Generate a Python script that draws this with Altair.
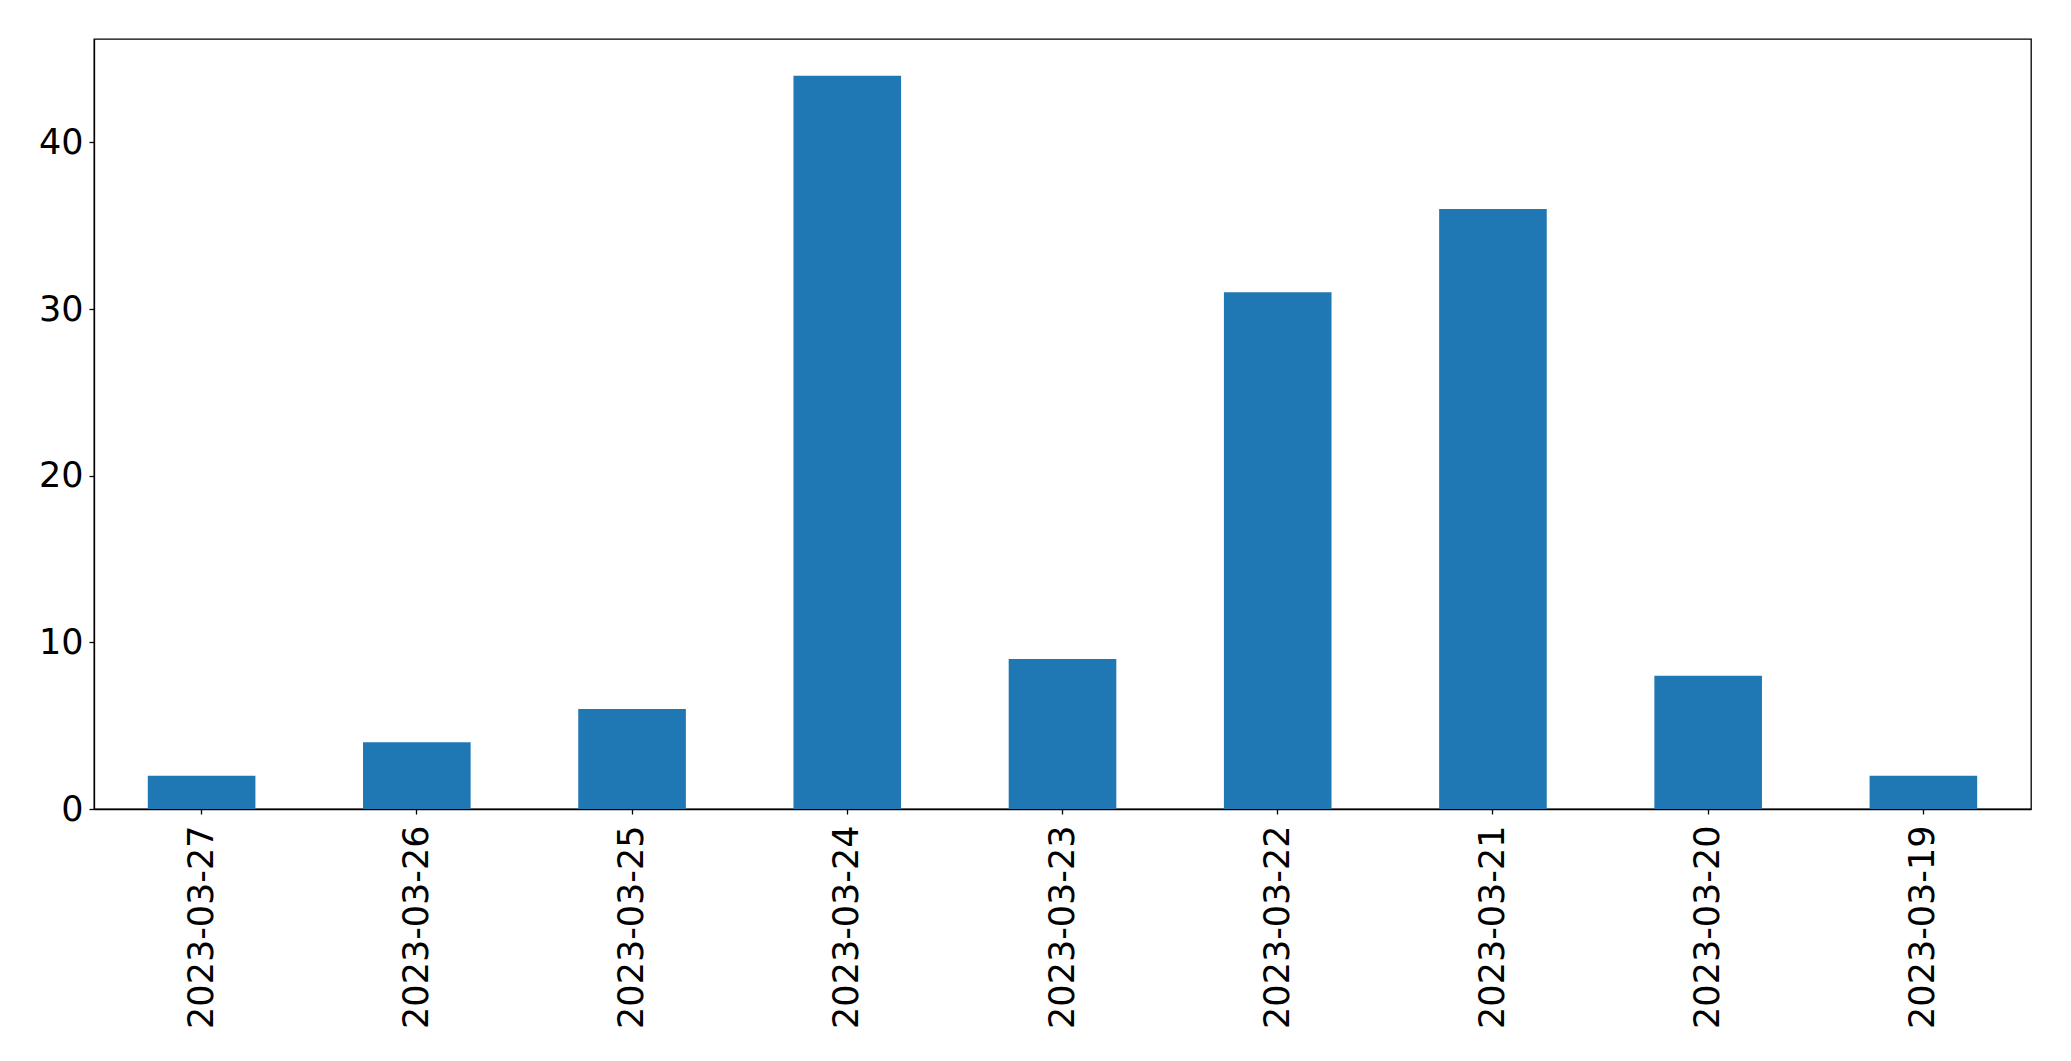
import altair as alt
import pandas as pd

dates = ["2023-03-27", "2023-03-26", "2023-03-25", "2023-03-24", "2023-03-23",
         "2023-03-22", "2023-03-21", "2023-03-20", "2023-03-19"]
counts = [2, 4, 6, 44, 9, 31, 36, 8, 2]

df = pd.DataFrame({"date": dates, "count": counts})

FONT = "DejaVu Sans"

chart = alt.Chart(df).mark_bar(color="#1f77b4").encode(
    x=alt.X("date:N", sort=dates, title=None,
            scale=alt.Scale(paddingInner=0.5, paddingOuter=0.25),
            axis=alt.Axis(labelAngle=270, labelFontSize=35, labelFont=FONT,
                          labelColor="black", labelPadding=11, tickSize=5,
                          tickWidth=1.3, tickColor="black", domainColor="black",
                          domainWidth=1.3, grid=False, labelAlign="right",
                          labelBaseline="middle", labelLimit=0)),
    y=alt.Y("count:Q", title=None,
            scale=alt.Scale(domain=[0, 46.2], nice=False, zero=True),
            axis=alt.Axis(values=[0, 10, 20, 30, 40], labelFontSize=35,
                          labelFont=FONT, labelColor="black", labelPadding=6,
                          tickSize=5, tickWidth=1.3, tickColor="black",
                          domainColor="black", domainWidth=1.3, grid=False)),
).properties(
    width=1937, height=770,
    autosize=alt.AutoSizeParams(type="none"),
    padding={"left": 86, "top": 31, "right": 20, "bottom": 230},
).configure(
    background="white",
    view=alt.ViewConfig(stroke="black", strokeWidth=1.3),
)

chart.save("out.html", embed_options={"renderer": "svg", "actions": False})
